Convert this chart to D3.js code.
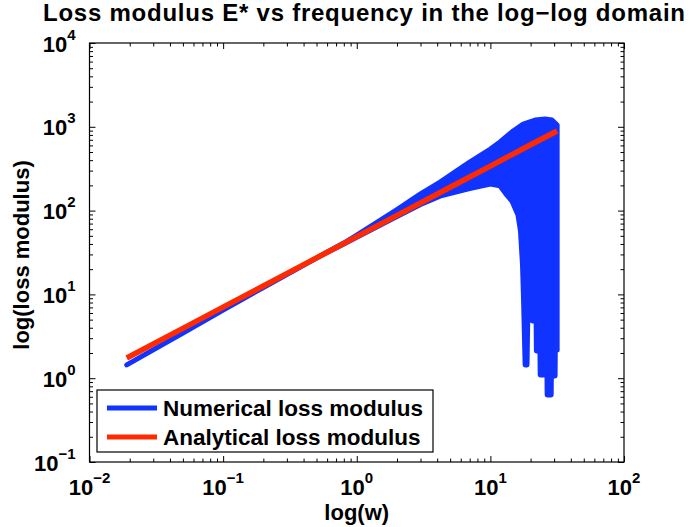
<!DOCTYPE html>
<html>
<head>
<meta charset="utf-8">
<script src="https://cdn.jsdelivr.net/npm/d3@7/dist/d3.min.js"></script>
<style>
  html, body { margin: 0; padding: 0; background: #fff; }
  text { font-family: "Liberation Sans", Arial, Helvetica, sans-serif; font-weight: bold; fill: #000; }
</style>
</head>
<body>
<svg id="chart" width="691" height="527"></svg>
<script>
// ---------------- data ----------------
const titleText = "Loss modulus E* vs frequency in the log\u2212log domain";
const xLabelText = "log(w)";
const yLabelText = "log(loss modulus)";
const legendLabels = ["Numerical loss modulus", "Analytical loss modulus"];

const xMajorTicks = [0.01, 0.1, 1, 10, 100];
const xTickExponents = ["\u22122", "\u22121", "0", "1", "2"];
const yMajorTicks = [0.1, 1, 10, 100, 1000, 10000];
const yTickExponents = ["\u22121", "0", "1", "2", "3", "4"];

// analytical loss modulus (straight line in log-log)
const omegaAnalytical = [0.019, 0.05, 0.1, 0.2, 0.5, 1, 2, 5, 10, 20, 31.6];
const lossAnalytical  = [1.74, 3.93, 7.05, 12.6, 27.3, 49, 87.7, 190, 340, 610, 891];

// numerical loss modulus: dense oscillation drawn as its upper / lower envelope
const omegaNumUpper = [0.019, 0.05, 0.1, 0.2, 0.5, 0.8, 1, 2, 3, 4.2, 7, 10, 11.8, 14.8, 17.6, 21.6, 25.7, 28.9, 31.6];
const lossNumUpper  = [1.44, 3.46, 6.52, 12.1, 27.2, 41, 51, 103, 158, 219, 380, 543, 659, 891, 1080, 1205, 1240, 1205, 1051];

const omegaNumLower = [0.019, 0.05, 0.1, 0.2, 0.5, 0.8, 1, 2, 3, 4.2, 5.5, 7, 10, 11.8, 13.3, 14.5, 15.3, 16.1, 16.8, 17.1, 17.4, 17.7,
                       18.2, 18.8, 19.1, 20.5, 20.6, 22.0, 22.1, 23.5, 23.6, 25.7, 25.8, 26.5, 26.6, 28.5, 28.6, 30.5, 30.6, 31.6];
const lossNumLower  = [1.44, 3.46, 6.52, 12.1, 27.2, 40, 48, 85, 118, 149, 166, 183, 208, 197, 153, 130, 107, 88.6, 57.1, 35.8, 22.4, 9.06,
                       1.44, 1.44, 6.88, 6.88, 4.82, 4.82, 2.11, 2.11, 1.09, 1.09, 1.44, 1.44, 0.63, 0.63, 1.06, 1.06, 2.17, 2.17];

// ---------------- layout ----------------
const plot = { left: 89.5, right: 624, top: 43, bottom: 462 };
const blue = "#1133ff";
const red = "#ff2a00";

const svg = d3.select("#chart");
const x = d3.scaleLog().domain([1e-2, 1e2]).range([plot.left, plot.right]);
const y = d3.scaleLog().domain([1e-1, 1e4]).range([plot.bottom, plot.top]);

function minorTicks(majors) {
  const out = [];
  for (let i = 0; i < majors.length - 1; i++) for (let k = 2; k <= 9; k++) out.push(majors[i] * k);
  return out;
}

// ---------------- numerical (blue) ----------------
const polyPts = omegaNumUpper.map((w, i) => [x(w), y(lossNumUpper[i])])
  .concat(omegaNumLower.map((w, i) => [x(w), y(lossNumLower[i])]).reverse());
svg.append("path")
  .attr("d", d3.line()(polyPts) + "Z")
  .attr("fill", blue).attr("stroke", blue)
  .attr("stroke-width", 5).attr("stroke-linejoin", "round");

// ---------------- analytical (red) ----------------
svg.append("path")
  .datum(omegaAnalytical.map((w, i) => [w, lossAnalytical[i]]))
  .attr("d", d3.line().x(d => x(d[0])).y(d => y(d[1])))
  .attr("fill", "none").attr("stroke", red).attr("stroke-width", 5.5);

// ---------------- axes (inward ticks on all 4 sides) ----------------
const majorLen = 6, minorLen = 3.5;
function addAxis(axisFn, scale, ticks, len, transform) {
  const g = svg.append("g").attr("transform", transform)
    .call(axisFn(scale).tickValues(ticks).tickSizeInner(-len).tickSizeOuter(0).tickFormat(""));
  g.select(".domain").remove();
  g.selectAll("line").attr("stroke", "#000").attr("stroke-width", 1);
}
const xMinor = minorTicks(xMajorTicks), yMinor = minorTicks(yMajorTicks);
addAxis(d3.axisBottom, x, xMajorTicks, majorLen, `translate(0,${plot.bottom})`);
addAxis(d3.axisBottom, x, xMinor, minorLen, `translate(0,${plot.bottom})`);
addAxis(d3.axisTop, x, xMajorTicks, majorLen, `translate(0,${plot.top})`);
addAxis(d3.axisTop, x, xMinor, minorLen, `translate(0,${plot.top})`);
addAxis(d3.axisLeft, y, yMajorTicks, majorLen, `translate(${plot.left},0)`);
addAxis(d3.axisLeft, y, yMinor, minorLen, `translate(${plot.left},0)`);
addAxis(d3.axisRight, y, yMajorTicks, majorLen, `translate(${plot.right},0)`);
addAxis(d3.axisRight, y, yMinor, minorLen, `translate(${plot.right},0)`);

svg.append("rect")
  .attr("x", plot.left).attr("y", plot.top)
  .attr("width", plot.right - plot.left).attr("height", plot.bottom - plot.top)
  .attr("fill", "none").attr("stroke", "#000").attr("stroke-width", 1.2);

// tick labels
const labelSize = 22, expSize = 15;
xMajorTicks.forEach((t, i) => {
  const tx = svg.append("text").attr("x", x(t)).attr("y", plot.bottom + 33)
    .attr("text-anchor", "middle").attr("font-size", labelSize);
  tx.append("tspan").text("10");
  tx.append("tspan").attr("dy", -12).attr("font-size", expSize).text(xTickExponents[i]);
});
yMajorTicks.forEach((t, i) => {
  const ty = svg.append("text").attr("x", plot.left - 14).attr("y", y(t) + 8.5)
    .attr("text-anchor", "end").attr("font-size", labelSize);
  ty.append("tspan").text("10");
  ty.append("tspan").attr("dy", -12).attr("font-size", expSize).text(yTickExponents[i]);
});

// axis labels
svg.append("text").attr("x", (plot.left + plot.right) / 2).attr("y", 520)
  .attr("text-anchor", "middle").attr("font-size", labelSize).text(xLabelText);
svg.append("text").attr("transform", `translate(29,255) rotate(-90)`)
  .attr("text-anchor", "middle").attr("font-size", labelSize).text(yLabelText);

// title
const title = svg.append("text").attr("x", 364).attr("y", 21)
  .attr("text-anchor", "middle").attr("font-size", 24).text(titleText);
const tw = title.node().getComputedTextLength();
if (tw < 642) title.attr("textLength", 642).attr("lengthAdjust", "spacing");

// ---------------- legend ----------------
const leg = { x: 97, y: 390, w: 336, h: 62 };
svg.append("rect").attr("x", leg.x).attr("y", leg.y).attr("width", leg.w).attr("height", leg.h)
  .attr("fill", "#fff").attr("stroke", "#000").attr("stroke-width", 1.2);
const legColors = [blue, red];
legendLabels.forEach((lab, i) => {
  const cy = leg.y + 18 + i * 29;
  svg.append("line").attr("x1", leg.x + 10).attr("x2", leg.x + 60).attr("y1", cy).attr("y2", cy)
    .attr("stroke", legColors[i]).attr("stroke-width", 5);
  svg.append("text").attr("x", leg.x + 66).attr("y", cy + 8)
    .attr("font-size", 22.5).text(lab);
});
</script>
</body>
</html>
